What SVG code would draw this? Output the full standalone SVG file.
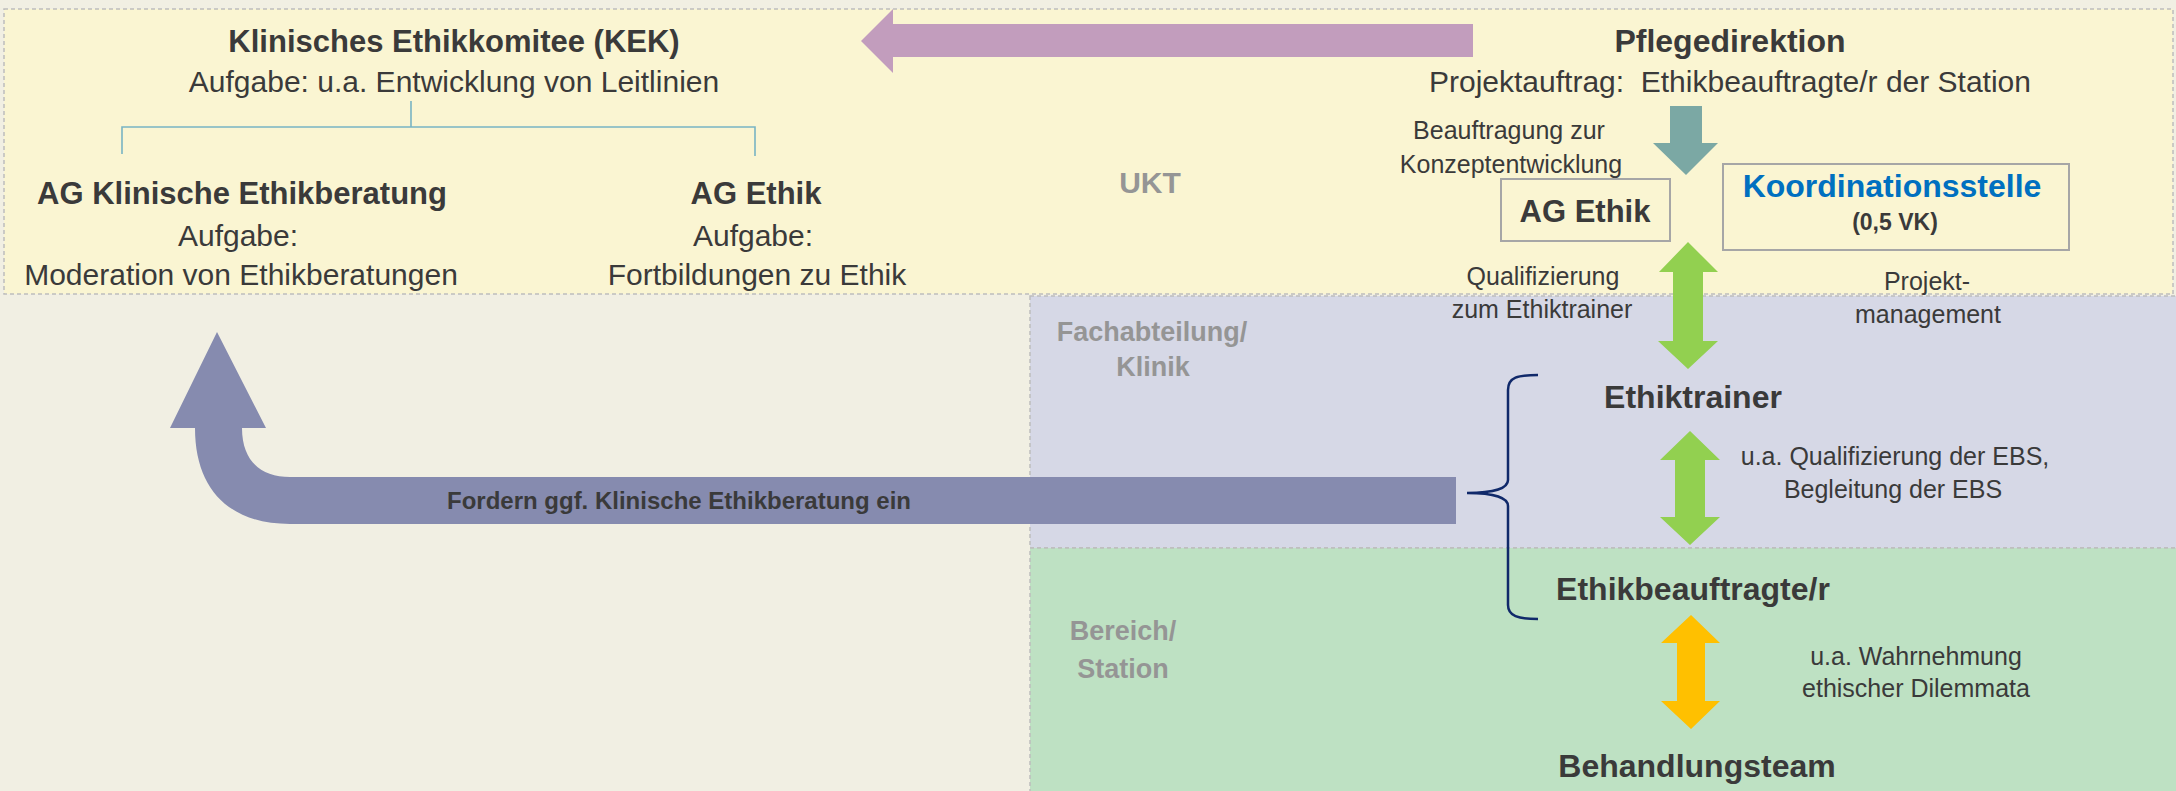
<svg xmlns="http://www.w3.org/2000/svg" width="2176" height="791" viewBox="0 0 2176 791">
  <style>
    text { font-family: "Liberation Sans", Arial, sans-serif; fill: #3A3A3A; text-anchor: middle; }
    .b { font-weight: bold; }
    .t31 { font-size: 31px; }
    .t32 { font-size: 32px; }
    .t30 { font-size: 30px; }
    .t25 { font-size: 25px; }
    .region { font-weight: bold; fill: #959595; font-size: 27px; }
    .box { fill: none; stroke: #A6A6A6; stroke-width: 2; }
    .zone { stroke: #BDBDBD; stroke-width: 1.5; stroke-dasharray: 4 3; }
    .tree { fill: none; stroke: #78B4C4; stroke-width: 1.6; }
  </style>
  <rect x="0" y="0" width="2176" height="791" fill="#F1EFE3"/>

  <g id="zones">
    <rect class="zone" x="4" y="9" width="2169" height="285" fill="#FAF5D2"/>
    <rect class="zone" x="1030" y="296" width="1150" height="252" fill="#D6D8E6"/>
    <rect class="zone" x="1030" y="548" width="1150" height="250" fill="#BEE1C3"/>
  </g>

  <g id="region-labels">
    <text class="region" x="1150" y="193" style="font-size:30px">UKT</text>
    <text class="region" x="1152" y="341">Fachabteilung/</text>
    <text class="region" x="1153" y="376">Klinik</text>
    <text class="region" x="1123" y="640">Bereich/</text>
    <text class="region" x="1123" y="678">Station</text>
  </g>

  <g id="connectors">
    <!-- KEK tree -->
    <path class="tree" d="M411 101 V127 M122 154 V127 H755 V156"/>
    <!-- purple arrow Pflegedirektion -> KEK -->
    <polygon points="1473,24 893,24 893,9 861,41 893,73 893,57 1473,57" fill="#C29DBD"/>
    <!-- teal down arrow -->
    <polygon points="1670,106 1702,106 1702,143 1718,143 1686,175 1653,143 1670,143" fill="#7BA8A4"/>
    <!-- green double arrow AG Ethik <-> Ethiktrainer -->
    <polygon points="1688,242 1718,272 1703,272 1703,341 1718,341 1688,369 1658,341 1673,341 1673,272 1659,272" fill="#92D050"/>
    <!-- green double arrow Ethiktrainer <-> Ethikbeauftragte -->
    <polygon points="1690,431 1720,460 1705,460 1705,517 1720,517 1690,545 1660,517 1675,517 1675,460 1660,460" fill="#92D050"/>
    <!-- orange double arrow Ethikbeauftragte <-> Behandlungsteam -->
    <polygon points="1691,615 1720,643 1705,643 1705,701 1720,701 1691,729 1661,701 1677,701 1677,643 1661,643" fill="#FFC000"/>
    <!-- big curved arrow -->
    <path d="M1456 477 L290 477 C262 477 242 462 242 428 L266 428 L217 332 L170 428 L195 428 C195 490 230 524 290 524 L1456 524 Z" fill="#868BAF"/>
    <!-- bracket -->
    <path d="M1538 375 C1518 375 1508 377 1508 390 L1508 480 C1508 488 1495 493 1467 493 C1495 493 1508 498 1508 506 L1508 605 C1508 616 1518 619 1538 619" fill="none" stroke="#10296A" stroke-width="2.5"/>
    <!-- connector labels -->
    <text class="t25" x="1509" y="139">Beauftragung zur</text>
    <text class="t25" x="1511" y="173">Konzeptentwicklung</text>
    <text class="t25" x="1543" y="285">Qualifizierung</text>
    <text class="t25" x="1542" y="318">zum Ethiktrainer</text>
    <text class="t25" x="1927" y="290">Projekt-</text>
    <text class="t25" x="1928" y="323">management</text>
    <text class="t25" x="1895" y="465">u.a. Qualifizierung der EBS,</text>
    <text class="t25" x="1893" y="498">Begleitung der EBS</text>
    <text class="t25" x="1916" y="665">u.a. Wahrnehmung</text>
    <text class="t25" x="1916" y="697">ethischer Dilemmata</text>
    <text class="b" x="679" y="509" style="font-size:24px">Fordern ggf. Klinische Ethikberatung ein</text>
  </g>

  <g id="kek">
    <text class="b t31" x="454" y="52">Klinisches Ethikkomitee (KEK)</text>
    <text class="t30" x="454" y="92">Aufgabe: u.a. Entwicklung von Leitlinien</text>
  </g>

  <g id="ag-klinische-ethikberatung">
    <text class="b t31" x="242" y="204">AG Klinische Ethikberatung</text>
    <text class="t30" x="238" y="246">Aufgabe:</text>
    <text class="t30" x="241" y="285">Moderation von Ethikberatungen</text>
  </g>

  <g id="ag-ethik-kek">
    <text class="b t31" x="756" y="204">AG Ethik</text>
    <text class="t30" x="753" y="246">Aufgabe:</text>
    <text class="t30" x="757" y="285">Fortbildungen zu Ethik</text>
  </g>

  <g id="pflegedirektion">
    <text class="b t32" x="1730" y="52">Pflegedirektion</text>
    <text class="t30" x="1730" y="92" style="white-space:pre">Projektauftrag:  Ethikbeauftragte/r der Station</text>
  </g>

  <g id="ag-ethik">
    <rect class="box" x="1501" y="179" width="169" height="62"/>
    <text class="b t31" x="1585" y="222">AG Ethik</text>
  </g>

  <g id="koordinationsstelle">
    <rect class="box" x="1723" y="164" width="346" height="86"/>
    <text class="b t32" x="1892" y="197" style="fill:#0070C0">Koordinationsstelle</text>
    <text class="b" x="1895" y="230" style="font-size:23px">(0,5 VK)</text>
  </g>

  <g id="ethiktrainer">
    <text class="b t32" x="1693" y="408">Ethiktrainer</text>
  </g>

  <g id="ethikbeauftragte">
    <text class="b t32" x="1693" y="600">Ethikbeauftragte/r</text>
  </g>

  <g id="behandlungsteam">
    <text class="b t32" x="1697" y="777">Behandlungsteam</text>
  </g>
</svg>
